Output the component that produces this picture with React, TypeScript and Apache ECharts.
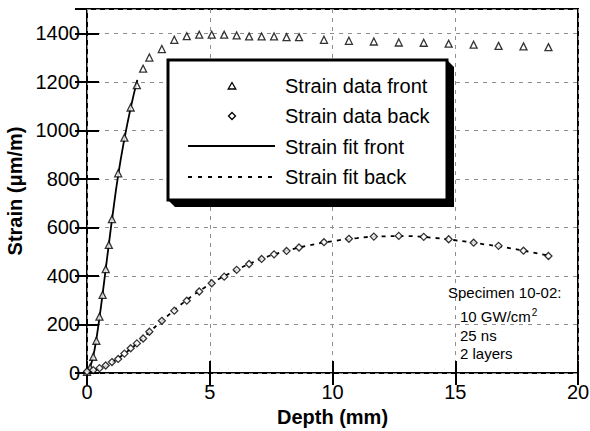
import React, { useEffect, useRef } from "react";
import * as echarts from "echarts";

const frontX = [0, 0.127, 0.254, 0.381, 0.508, 0.635, 0.762, 0.889, 1.016, 1.27, 1.524, 1.778, 2.032, 2.286, 2.54, 3.048, 3.556, 4.064, 4.572, 5.08, 5.588, 6.096, 6.604, 7.112, 7.62, 8.128, 8.636, 9.652, 10.668, 11.684, 12.7, 13.716, 14.732, 15.748, 16.764, 17.78, 18.796];
const frontY = [5, 22, 67, 133, 232, 322, 428, 528, 634, 823, 970, 1094, 1186, 1254, 1300, 1335, 1373, 1388, 1394, 1394, 1394, 1391, 1387, 1387, 1387, 1384, 1384, 1373, 1369, 1366, 1362, 1361, 1357, 1353, 1348, 1346, 1343];

const backX = [0, 0.254, 0.508, 0.762, 1.016, 1.27, 1.524, 1.778, 2.032, 2.286, 2.54, 3.048, 3.556, 4.064, 4.572, 5.08, 5.588, 6.096, 6.604, 7.112, 7.62, 8.128, 8.636, 9.652, 10.668, 11.684, 12.7, 13.716, 14.732, 15.748, 16.764, 17.78, 18.796];
const backY = [6, 12, 20, 31, 45, 58, 80, 102, 122, 142, 170, 215, 257, 298, 336, 370, 397, 425, 449, 470, 489, 503, 517, 539, 553, 562, 565, 561, 551, 537, 524, 504, 482];

const fitFrontX = [0, 0.127, 0.254, 0.381, 0.508, 0.635, 0.762, 0.889, 1.016, 1.27, 1.524, 1.778, 2.05];
const fitFrontY = [0, 25, 70, 140, 228, 325, 428, 530, 630, 815, 965, 1092, 1208];

const fitBackX = [0, 0.5, 1, 1.5, 2, 2.5, 3, 4, 5, 6, 7, 8, 9, 10, 11, 12, 13, 14, 15, 16, 17, 18, 18.8];
const fitBackY = [0, 18, 42, 78, 118, 165, 210, 296, 365, 420, 466, 500, 525, 543, 556, 563, 564, 558, 547, 533, 518, 500, 484];

const legendLabels = ["Strain data front", "Strain data back", "Strain fit front", "Strain fit back"];
const noteLines = ["Specimen 10-02:", "{a|10 GW/cm}{s|2}", "25 ns", "2 layers"];

const FONT = "'Liberation Sans', Arial, Helvetica, sans-serif";

const zip = (xs: number[], ys: number[]) => xs.map((x, i) => [x, ys[i]]);

export default function App() {
  const ref = useRef<HTMLDivElement>(null);
  useEffect(() => {
    if (!ref.current) return;
    const chart = echarts.init(ref.current, null, { renderer: "svg" });
    const axisCommon = {
      axisLine: { show: false },
      axisTick: { show: true, inside: true, length: 12, lineStyle: { color: "#000", width: 2 } },
    };
    const legendY = [86, 116, 147, 177];
    const graphic: any[] = [
      { type: "polygon", z: 100, shape: { points: [[447, 60], [454, 67], [454, 207], [175, 207], [168, 200]] }, style: { fill: "#000" } },
      { type: "rect", z: 101, shape: { x: 168, y: 60, width: 279, height: 140 }, style: { fill: "#fff", stroke: "#000", lineWidth: 3 } },
      { type: "polygon", z: 102, shape: { points: [[232, 82.5], [235.8, 89], [228.2, 89]] }, style: { fill: "#fff", stroke: "#000", lineWidth: 1.3 } },
      { type: "polygon", z: 102, shape: { points: [[232, 112.5], [235.5, 116], [232, 119.5], [228.5, 116]] }, style: { fill: "#fff", stroke: "#000", lineWidth: 1.3 } },
      { type: "line", z: 102, shape: { x1: 188, y1: 146, x2: 275, y2: 146 }, style: { stroke: "#000", lineWidth: 1.8 } },
      { type: "line", z: 102, shape: { x1: 188, y1: 177, x2: 275, y2: 177 }, style: { stroke: "#000", lineWidth: 1.8, lineDash: [4, 6] } },
      ...legendLabels.map((t, i) => ({
        type: "text", z: 103, x: 285, y: legendY[i],
        style: { text: t, fontSize: 20, fontFamily: FONT, fill: "#000", verticalAlign: "middle" },
      })),
      ...noteLines.map((t, i) => ({
        type: "text", z: 103, x: i === 0 ? 448 : 460, y: [292, 316, 335, 353][i],
        style: {
          text: t, fontSize: 15, fontFamily: FONT, fill: "#000", verticalAlign: "middle",
          rich: {
            a: { fontSize: 15, fontFamily: FONT, fill: "#000", lineHeight: 17 },
            s: { fontSize: 10, fontFamily: FONT, fill: "#000", verticalAlign: "top", lineHeight: 17, padding: [0, 0, 8, 1] },
          },
        },
      })),
    ];
    const plain = (v: number) => String(v);
    const gridLine = { show: true, lineStyle: { color: "#8e8e8e", type: [4, 5], width: 1 } };
    chart.setOption({
      animation: false,
      backgroundColor: "#fff",
      grid: {
        left: 87, right: 12, top: 9, bottom: 58, show: true, borderColor: "#000", borderWidth: 2,
        backgroundColor: "transparent", containLabel: false, outerBoundsMode: "none",
      },
      xAxis: [
        {
          type: "value", min: 0, max: 20, interval: 5, position: "bottom",
          ...axisCommon,
          axisLabel: { fontSize: 20, fontFamily: FONT, color: "#000", margin: 9, formatter: plain },
          splitLine: gridLine,
          name: "Depth (mm)", nameLocation: "middle", nameGap: 31,
          nameTextStyle: { fontSize: 20, fontWeight: "bold", fontFamily: FONT, color: "#000" },
        },
        {
          type: "value", min: 0, max: 20, interval: 5, position: "top",
          ...axisCommon, axisLabel: { show: false }, splitLine: { show: false },
        },
      ],
      yAxis: [
        {
          type: "value", min: 0, max: 1500, interval: 200, position: "left",
          ...axisCommon,
          axisLabel: { fontSize: 20, fontFamily: FONT, color: "#000", margin: 7, showMaxLabel: false, formatter: plain },
          splitLine: gridLine,
          name: "Strain (\u03BCm/m)", nameLocation: "middle", nameGap: 57,
          nameTextStyle: { fontSize: 20, fontWeight: "bold", fontFamily: FONT, color: "#000" },
        },
        {
          type: "value", min: 0, max: 1500, interval: 200, position: "right",
          ...axisCommon, axisLabel: { show: false }, splitLine: { show: false },
        },
      ],
      series: [
        {
          type: "line", name: "Strain fit front", data: zip(fitFrontX, fitFrontY), smooth: true,
          showSymbol: false, lineStyle: { color: "#000", width: 1.8 }, z: 2,
        },
        {
          type: "line", name: "Strain fit back", data: zip(fitBackX, fitBackY), smooth: true,
          showSymbol: false, lineStyle: { color: "#000", width: 1.8, type: [4, 5] }, z: 2,
        },
        {
          type: "scatter", name: "Strain data front", data: zip(frontX, frontY), symbol: "triangle", symbolSize: 7,
          itemStyle: { color: "#fff", borderColor: "#000", borderWidth: 1.3 }, z: 3,
        },
        {
          type: "scatter", name: "Strain data back", data: zip(backX, backY), symbol: "diamond", symbolSize: 7,
          itemStyle: { color: "#fff", borderColor: "#000", borderWidth: 1.3 }, z: 3,
        },
      ],
      graphic,
    });
    return () => chart.dispose();
  }, []);
  return <div ref={ref} style={{ position: "absolute", left: 0, top: 0, width: 590, height: 431 }} />;
}
